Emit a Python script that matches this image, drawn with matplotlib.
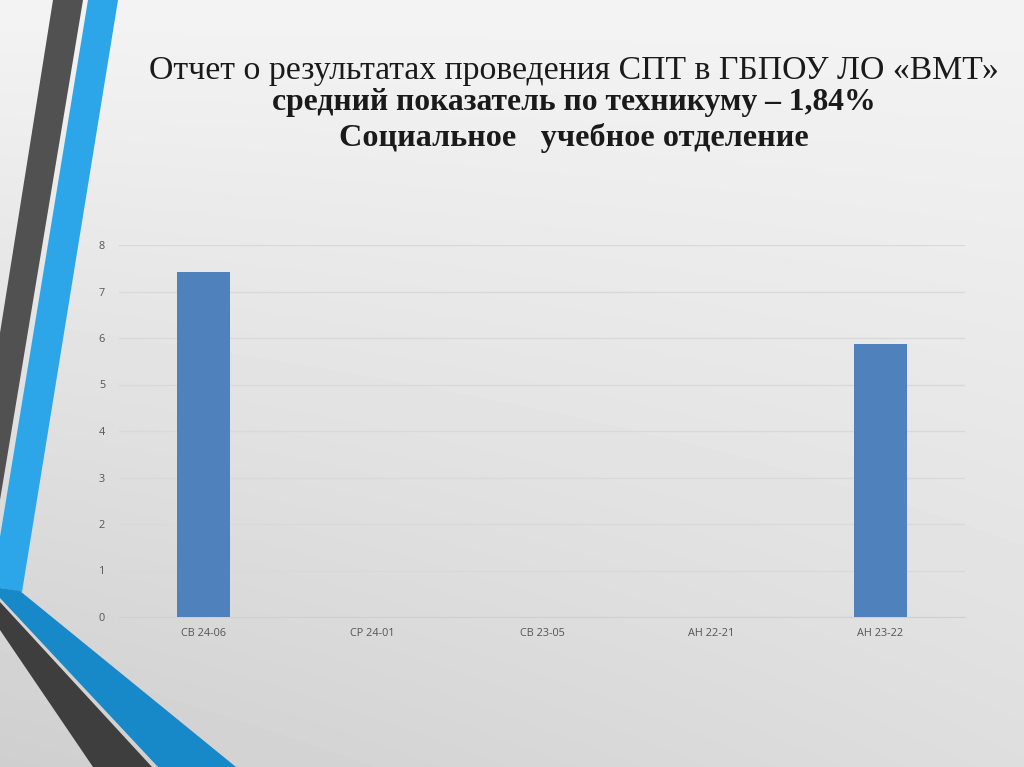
import matplotlib
matplotlib.use("Agg")
import matplotlib.pyplot as plt
import numpy as np
from matplotlib.patches import Polygon

# chart data
groups = ["СВ 24-06", "СР 24-01", "СВ 23-05", "АН 22-21", "АН 23-22"]
scores = [7.42, 0, 0, 0, 5.87]
y_ticks = [0, 1, 2, 3, 4, 5, 6, 7, 8]

title_lines = [
    "Отчет о результатах проведения СПТ в ГБПОУ ЛО «ВМТ»",
    "средний показатель по техникуму – 1,84%",
    "Социальное   учебное отделение",
]

W, H = 1024, 767
fig = plt.figure(figsize=(W / 100, H / 100), dpi=100)

# slide background (light grey gradient) + decorative stripes, in pixel coords
bg = fig.add_axes([0, 0, 1, 1])
yy, xx = np.mgrid[0:H, 0:W]
shade = 0.955 - 0.085 * (yy / H) - 0.06 * (1 - xx / W) * (yy / H)
bg.imshow(shade, cmap="gray", vmin=0, vmax=1, extent=(0, W, H, 0),
          aspect="auto", interpolation="bilinear")
bg.set_xlim(0, W)
bg.set_ylim(H, 0)
bg.axis("off")

stripes = [
    ([(53, 0), (83, 0), (0, 500), (0, 333)], "#515151"),
    ([(88, 0), (118, 0), (22, 592), (0, 588), (0, 537)], "#2ca6e9"),
    ([(0, 588), (20, 591), (236, 767), (158, 767), (0, 598)], "#1788c8"),
    ([(0, 602), (152, 767), (93, 767), (0, 630)], "#3e3e3e"),
]
for pts, col in stripes:
    bg.add_patch(Polygon(pts, closed=True, facecolor=col, edgecolor="none"))

# title (sizes fitted to the line widths of the original slide)
renderer = fig.canvas.get_renderer()
title_specs = [(79, 850, "normal"), (110, 605, "bold"), (146, 470, "bold")]
for line, (base_y, target_w, wt) in zip(title_lines, title_specs):
    t = fig.text(574 / W, 1 - base_y / H, line, ha="center", va="baseline",
                 fontsize=24, fontweight=wt, family="Liberation Serif",
                 color="#1a1a1a")
    bb = t.get_window_extent(renderer)
    t.set_fontsize(24 * target_w / bb.width)

# bar chart
ax = fig.add_axes([119 / W, (H - 617) / H, 846 / W, 372 / H])
ax.patch.set_alpha(0)
x = np.arange(len(groups))
ax.bar(x, scores, width=0.31, color="#4f81bd", zorder=3)
ax.set_xlim(-0.5, len(groups) - 0.5)
ax.set_ylim(0, 8)
ax.set_yticks(y_ticks)
ax.set_xticks(x)
ax.set_xticklabels(groups)
ax.yaxis.grid(True, color="#d9d9d9", linewidth=1)
ax.set_axisbelow(True)
for side in ["top", "right", "left"]:
    ax.spines[side].set_visible(False)
ax.spines["bottom"].set_color("#d0d0d0")
ax.tick_params(axis="both", length=0, colors="#555555", labelsize=7.8)
ax.tick_params(axis="y", pad=10)
ax.tick_params(axis="x", pad=8)
for lbl in ax.get_xticklabels() + ax.get_yticklabels():
    lbl.set_family("Open Sans")

fig.savefig("out.png", dpi=100)
